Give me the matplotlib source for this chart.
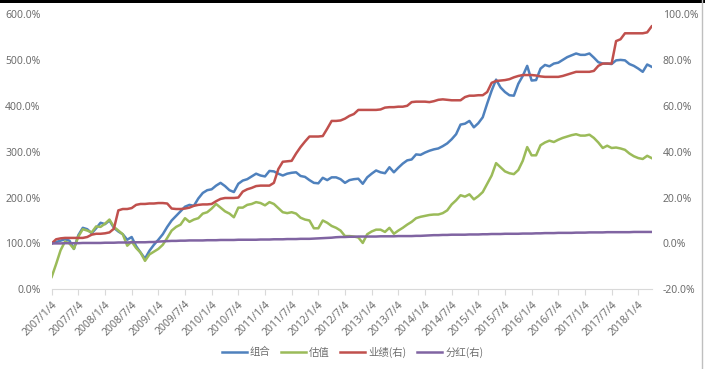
import pandas as pd
import matplotlib
matplotlib.use("Agg")
import matplotlib.pyplot as plt
from matplotlib.patches import Rectangle
from matplotlib.lines import Line2D
from matplotlib.ticker import FuncFormatter

plt.rcParams["font.family"] = ["Noto Sans", "Noto Sans CJK SC", "DejaVu Sans"]

# monthly points, 2007/1/4 .. 2018/4/4
dates = pd.date_range("2007-01-01", periods=136, freq="MS") + pd.Timedelta(days=3)

# 组合 (left axis, %)
portfolio = [
    100, 103, 106, 109, 106, 88, 118, 134, 131, 122, 133, 145,
    142, 150, 134, 126, 120, 108, 114, 94, 80, 67, 84, 97,
    108, 120, 136, 150, 160, 170, 180, 184, 182, 198, 210, 216,
    218, 226, 232, 225, 216, 212, 230, 237, 240, 246, 252, 248,
    246, 258, 257, 252, 248, 252, 254, 255, 247, 245, 238, 232,
    231, 243, 238, 244, 244, 240, 232, 238, 240, 241, 230, 244,
    252, 259, 255, 253, 266, 255, 265, 274, 281, 283, 294, 293,
    298, 302, 305, 307, 312, 318, 327, 338, 359, 361, 367, 353,
    362, 375, 405, 433, 457, 440, 430, 423, 422, 448, 465, 487,
    455, 456, 481, 489, 486, 492, 494, 500, 506, 510, 514, 511,
    511, 514, 505, 495, 492, 492, 491, 499, 500, 499, 491, 487,
    481, 474, 490, 485,
]

# 估值 (left axis, %)
valuation = [
    27, 55, 85, 104, 100, 88, 115, 131, 128, 124, 137, 136,
    143, 152, 136, 128, 120, 95, 104, 90, 80, 62, 76, 82,
    88, 97, 112, 128, 136, 141, 155, 147, 152, 155, 165, 168,
    176, 186, 178, 170, 165, 157, 178, 178, 184, 186, 190, 188,
    183, 190, 186, 177, 168, 166, 168, 165, 156, 152, 150, 133,
    133, 150, 145, 138, 134, 128, 116, 116, 115, 113, 101, 120,
    126, 130, 130, 125, 134, 121, 128, 134, 141, 147, 155, 158,
    160, 162, 163, 163, 166, 172, 185, 194, 205, 202, 207, 196,
    203, 212, 230, 248, 275, 266, 257, 253, 251, 260, 280, 310,
    292, 292, 314, 320, 324, 321, 326, 330, 333, 336, 338, 335,
    335, 337, 330, 320, 308, 313, 308, 309, 307, 304, 296, 290,
    286, 284, 291, 286,
]

# 业绩(右) (right axis, %)
earnings = [
    0.0, 1.8, 2.2, 2.4, 2.4, 2.4, 2.4, 2.4, 2.8, 3.8, 4.2, 4.2,
    4.4, 4.8, 6.4, 14.4, 15.0, 15.0, 15.4, 16.8, 17.2, 17.2, 17.4, 17.4,
    17.6, 17.6, 17.4, 15.2, 15.0, 15.0, 15.2, 15.6, 16.4, 16.8, 17.0, 17.0,
    17.2, 18.4, 19.4, 19.8, 19.8, 19.8, 20.0, 22.6, 23.6, 24.2, 25.0, 25.2,
    25.2, 25.2, 26.4, 32.4, 35.6, 35.8, 36.0, 39.2, 42.0, 44.4, 46.6, 46.6,
    46.6, 46.8, 50.0, 53.4, 53.4, 53.6, 54.4, 55.6, 56.4, 58.2, 58.2, 58.2,
    58.2, 58.2, 58.4, 59.2, 59.4, 59.4, 59.6, 59.6, 60.0, 61.6, 61.8, 61.8,
    61.8, 61.6, 62.0, 62.6, 62.8, 62.6, 62.4, 62.4, 62.4, 63.8, 64.4, 64.4,
    64.6, 64.6, 66.0, 70.0, 70.8, 71.0, 71.2, 71.6, 72.4, 73.0, 73.4, 73.4,
    73.4, 73.2, 72.8, 72.6, 72.6, 72.6, 72.6, 73.0, 73.6, 74.2, 74.8, 74.8,
    74.8, 74.8, 75.2, 77.4, 78.4, 78.4, 78.4, 88.2, 89.0, 91.6, 91.6, 91.6,
    91.6, 91.6, 92.0, 94.6,
]

# 分红(右) (right axis, %)
dividend = [
    0.0, 0.0, 0.0, 0.1, 0.1, 0.1, 0.1, 0.2, 0.2, 0.2, 0.2, 0.2,
    0.3, 0.3, 0.3, 0.4, 0.4, 0.4, 0.5, 0.5, 0.5, 0.5, 0.6, 0.6,
    0.8, 0.9, 1.0, 1.1, 1.1, 1.2, 1.2, 1.3, 1.3, 1.3, 1.3, 1.4,
    1.4, 1.4, 1.5, 1.5, 1.5, 1.5, 1.6, 1.6, 1.6, 1.6, 1.6, 1.7,
    1.7, 1.7, 1.8, 1.8, 1.8, 1.9, 1.9, 1.9, 2.0, 2.0, 2.0, 2.1,
    2.2, 2.3, 2.4, 2.5, 2.7, 2.8, 2.8, 2.9, 2.9, 3.0, 3.0, 3.0,
    3.0, 3.0, 3.1, 3.1, 3.1, 3.1, 3.2, 3.2, 3.2, 3.2, 3.3, 3.3,
    3.4, 3.5, 3.6, 3.6, 3.7, 3.7, 3.8, 3.8, 3.8, 3.8, 3.9, 3.9,
    3.9, 4.0, 4.0, 4.1, 4.1, 4.1, 4.2, 4.2, 4.2, 4.2, 4.3, 4.3,
    4.3, 4.4, 4.4, 4.5, 4.5, 4.5, 4.6, 4.6, 4.6, 4.6, 4.7, 4.7,
    4.7, 4.8, 4.8, 4.8, 4.8, 4.9, 4.9, 4.9, 4.9, 4.9, 4.9, 5.0,
    5.0, 5.0, 5.0, 5.0,
]

labels = ["组合", "估值", "业绩(右)", "分红(右)"]
colors = ["#4F81BD", "#9BBB59", "#C0504D", "#8064A2"]

x = list(range(len(dates)))
tick_pos = x[::6]
tick_labels = [f"{d.year}/{d.month}/{d.day}" for d in dates[::6]]

fig = plt.figure(figsize=(7.05, 3.69), dpi=100)
ax = fig.add_axes([0.0733, 0.216, 0.851, 0.746])
ax2 = ax.twinx()

lw = 1.8
ax.plot(x, portfolio, color=colors[0], lw=lw, solid_joinstyle="round")
ax.plot(x, valuation, color=colors[1], lw=lw, solid_joinstyle="round")
ax2.plot(x, earnings, color=colors[2], lw=lw, solid_joinstyle="round")
ax2.plot(x, dividend, color=colors[3], lw=lw, solid_joinstyle="round")

ax.set_xlim(0, len(dates) - 1)
ax.set_ylim(0, 600)
ax2.set_ylim(-20, 100)
ax.set_yticks(range(0, 601, 100))
ax2.set_yticks(range(-20, 101, 20))
ax.yaxis.set_major_formatter(FuncFormatter(lambda v, p: f"{v:.1f}%"))
ax2.yaxis.set_major_formatter(FuncFormatter(lambda v, p: f"{v:.1f}%"))

ax.set_xticks(tick_pos)
ax.set_xticklabels(tick_labels, rotation=45, ha="right", rotation_mode="anchor")

grey = "#6E6E6E"
for a in (ax, ax2):
    for s in a.spines.values():
        s.set_visible(False)
    a.tick_params(axis="y", length=0, labelsize=7.5, labelcolor=grey, pad=8)
ax.spines["bottom"].set_visible(True)
ax.spines["bottom"].set_color("#D9D9D9")
ax.tick_params(axis="x", length=4, color="#D9D9D9", labelsize=7.5,
               labelcolor=grey, pad=3)

handles = [Line2D([], [], color=c, lw=lw) for c in colors]
fig.legend(handles, labels, loc="center", bbox_to_anchor=(0.5, 0.046), ncol=4,
           frameon=False, handlelength=2.4, columnspacing=1.0,
           handletextpad=0.3, labelcolor=grey,
           prop={"family": ["Noto Sans CJK SC"], "size": 7.5})

# black strip along the top and thin frame line at the right edge
fig.add_artist(Rectangle((0, 0.992), 1, 0.008, transform=fig.transFigure,
                         color="black", lw=0))
fig.add_artist(Line2D([0.996, 0.996], [0, 1], transform=fig.transFigure,
                      color="#BFBFBF", lw=1))

fig.savefig("out.png", dpi=100)
